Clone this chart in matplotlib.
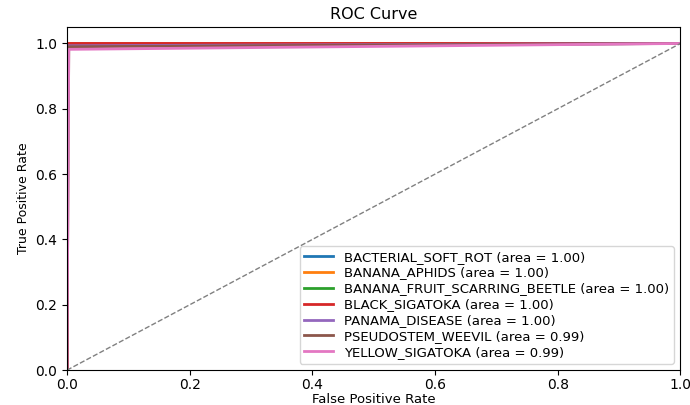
import matplotlib
matplotlib.use("Agg")
import matplotlib.pyplot as plt

classes = ["BACTERIAL_SOFT_ROT", "BANANA_APHIDS", "BANANA_FRUIT_SCARRING_BEETLE",
           "BLACK_SIGATOKA", "PANAMA_DISEASE", "PSEUDOSTEM_WEEVIL", "YELLOW_SIGATOKA"]
areas = [1.00, 1.00, 1.00, 1.00, 1.00, 0.99, 0.99]

fpr = [
    [0.0, 0.0, 1.0],
    [0.0, 0.0, 1.0],
    [0.0, 0.0, 1.0],
    [0.0, 0.0, 1.0],
    [0.0, 0.0, 1.0],
    [0.0, 0.003, 1.0],
    [0.0, 0.003, 1.0],
]
tpr = [
    [0.0, 1.0, 1.0],
    [0.0, 1.0, 1.0],
    [0.0, 0.994, 1.0],
    [0.0, 1.0, 1.0],
    [0.0, 0.993, 1.0],
    [0.0, 0.99, 1.0],
    [0.0, 0.982, 1.0],
]

fig = plt.figure(figsize=(6.9, 4.05), dpi=100)
ax = fig.add_axes([0.097, 0.086, 0.889, 0.847])

for i, name in enumerate(classes):
    ax.plot(fpr[i], tpr[i], color=f"C{i}", lw=2,
            label=f"{name} (area = {areas[i]:.2f})")
ax.plot([0, 1], [0, 1], color="gray", ls="--", lw=1)

ax.set_xlim(0.0, 1.0)
ax.set_ylim(0.0, 1.05)
ax.tick_params(axis="x", pad=2)
ax.set_xlabel("False Positive Rate", fontsize=9.5, labelpad=1)
ax.set_ylabel("True Positive Rate", fontsize=9)
ax.set_title("ROC Curve", fontsize=11.5)
ax.legend(loc="lower right", fontsize=9.5, labelspacing=0.22,
          borderpad=0.35, handlelength=2.2)

fig.savefig("out.png", dpi=100)
